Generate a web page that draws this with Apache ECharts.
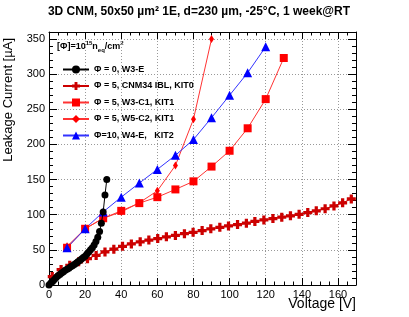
<!DOCTYPE html>
<html>
<head>
<meta charset="utf-8">
<script src="https://cdn.jsdelivr.net/npm/echarts@6/dist/echarts.min.js"></script>
<style>
html,body{margin:0;padding:0;background:#fff;}
#chart{width:409px;height:317px;}
</style>
</head>
<body>
<div id="chart"></div>
<script>
// ---- Data ----
const names = ['Φ = 0, W3-E', 'Φ = 5, CNM34 IBL, KIT0', 'Φ = 5, W3-C1, KIT1', 'Φ = 5, W5-C2, KIT1', 'Φ=10, W4-E,   KIT2'];

const w3eV = [0,1,2,3,4,5,6,7,8,9,10,11,12,13,14,15,16,17,18,19,20,21,22,23,24,25,26,27,28,29,30,31,32];
const w3eI = [0,3,5,8,10.5,13,15,17,19,21,22.5,24,26,27.5,29,31,33,35,37,39,41,44,47,50,53,57,62,68,76,88,104,128,150];

const cnm34V = [1.8,6.7,11.5,16.4,21.3,26.1,31,35.9,40.7,45.6,50.5,55.3,60.2,65,70,75,79.8,84.8,89.6,94.6,99.4,104.4,109.3,114,119,124,128.9,133.7,138.5,143.3,148,152.9,157.8,162.6,167.4];
const cnm34I = [12,22,28,33,37.5,42,47,51,55,58.5,61.5,64,66,68.5,70.5,73,75,77.5,80,82,84,86,88,90.5,92.5,94.5,96.5,98.5,100.5,103,105.5,108.5,112.5,117,122.5];

const w3c1V = [10,20,30,40,50,60,70,80,90,100,110,120,130];
const w3c1I = [53,80,95,105.5,116.5,125,136,147.5,168.5,191,223,264.5,323];

const w5c2V = [10,20,30,40,50,60,70,80,90];
const w5c2I = [55,80,95,104,117,134,170,236,350];

const w4eV = [10,20,30,40,50,60,70,80,90,100,110,120];
const w4eI = [53,80,104,125,145,164.5,184.5,207,238,270,302,339];

const xTicks = [0,20,40,60,80,100,120,140,160];
const yTicks = [0,50,100,150,200,250,300,350];

const pairs = (xs, ys) => xs.map((x, i) => [x, ys[i]]);

const FONT = 'Liberation Sans, Arial, Helvetica, sans-serif';
const crossPath = 'path://M3.2,0H6.8V3.2H10V6.8H6.8V10H3.2V6.8H0V3.2H3.2Z';

const chart = echarts.init(document.getElementById('chart'), null, {renderer: 'canvas'});

const XMAX = 170, YMAX = 360;
function xAx(pos, interval, len, major) {
  return {
    type: 'value', min: 0, max: XMAX, interval: interval, position: pos,
    axisLine: {show: major, onZero: false, lineStyle: {color: '#000', width: 1}},
    axisTick: {show: true, inside: true, length: len, lineStyle: {color: '#000', width: 1}},
    axisLabel: {show: major && pos === 'bottom', fontFamily: FONT, fontSize: 11, color: '#000', margin: 4,
      formatter: v => xTicks.indexOf(v) >= 0 ? String(v) : ''},
    splitLine: {show: major && pos === 'bottom', lineStyle: {color: '#999', type: [1, 2], width: 1}}
  };
}
function yAx(pos, interval, len, major) {
  return {
    type: 'value', min: 0, max: YMAX, interval: interval, position: pos,
    axisLine: {show: major, onZero: false, lineStyle: {color: '#000', width: 1}},
    axisTick: {show: true, inside: true, length: len, lineStyle: {color: '#000', width: 1}},
    axisLabel: {show: major && pos === 'left', fontFamily: FONT, fontSize: 11, color: '#000', margin: 4,
      formatter: v => yTicks.indexOf(v) >= 0 ? String(v) : ''},
    splitLine: {show: major && pos === 'left', lineStyle: {color: '#999', type: [1, 2], width: 1}}
  };
}

const option = {
  animation: false,
  backgroundColor: '#fff',
  grid: {left: 49, right: 53, top: 32, bottom: 32, containLabel: false},
  xAxis: [xAx('bottom', 20, 7, true), xAx('bottom', 5, 3.5, false), xAx('top', 20, 7, true), xAx('top', 5, 3.5, false)],
  yAxis: [yAx('left', 50, 8, true), yAx('left', 10, 4, false), yAx('right', 50, 8, true), yAx('right', 10, 4, false)],
  legend: {
    orient: 'vertical', left: 57, top: 60, itemWidth: 26, itemHeight: 10, itemGap: 7.5,
    data: names,
    textStyle: {fontFamily: FONT, fontSize: 9, fontWeight: 'bold', color: '#000', padding: [0,0,0,0]}
  },
  graphic: [
    {type: 'text', x: 199, y: 12, style: {text: '3D CNM, 50x50 µm² 1E, d=230 µm, -25°C, 1 week@RT', font: 'bold 12px ' + FONT, fill: '#000', align: 'center', verticalAlign: 'middle'}},
    {type: 'text', x: 356, y: 304, style: {text: 'Voltage [V]', font: '14px ' + FONT, fill: '#000', align: 'right', verticalAlign: 'middle'}},
    {type: 'text', x: 8, y: 38, rotation: Math.PI / 2, style: {text: 'Leakage Current [µA]', font: '13px ' + FONT, fill: '#000', align: 'right', verticalAlign: 'middle'}},
    {type: 'text', x: 57, y: 40, style: {
      text: '{a|[Φ]=10}{s|15}{a|n}{b|eq}{a|/cm}{s|2}',
      rich: {
        a: {font: 'bold 9px ' + FONT, fill: '#000', lineHeight: 13},
        s: {font: 'bold 6px ' + FONT, fill: '#000', verticalAlign: 'top'},
        b: {font: 'bold 6px ' + FONT, fill: '#000', verticalAlign: 'bottom'}
      }
    }}
  ],
  series: [
    {name: names[0], type: 'line', data: pairs(w3eV, w3eI), symbol: 'circle', symbolSize: 7,
      itemStyle: {color: '#000'}, lineStyle: {color: '#000', width: 1}, z: 5},
    {name: names[1], type: 'line', data: pairs(cnm34V, cnm34I), symbol: crossPath, symbolSize: 9,
      itemStyle: {color: '#cc0000'}, lineStyle: {color: '#cc0000', width: 1}, z: 4},
    {name: names[2], type: 'line', data: pairs(w3c1V, w3c1I), symbol: 'rect', symbolSize: 8,
      itemStyle: {color: '#ff0000'}, lineStyle: {color: '#ff3333', width: 1}, z: 3},
    {name: names[3], type: 'line', data: pairs(w5c2V, w5c2I), symbol: 'diamond', symbolSize: [5, 8],
      itemStyle: {color: '#ff0000'}, lineStyle: {color: '#ff3333', width: 1}, z: 3},
    {name: names[4], type: 'line', data: pairs(w4eV, w4eI), symbol: 'triangle', symbolSize: 9,
      itemStyle: {color: '#0000ff'}, lineStyle: {color: '#3333ff', width: 1}, z: 3}
  ]
};
chart.setOption(option);
</script>
</body>
</html>
